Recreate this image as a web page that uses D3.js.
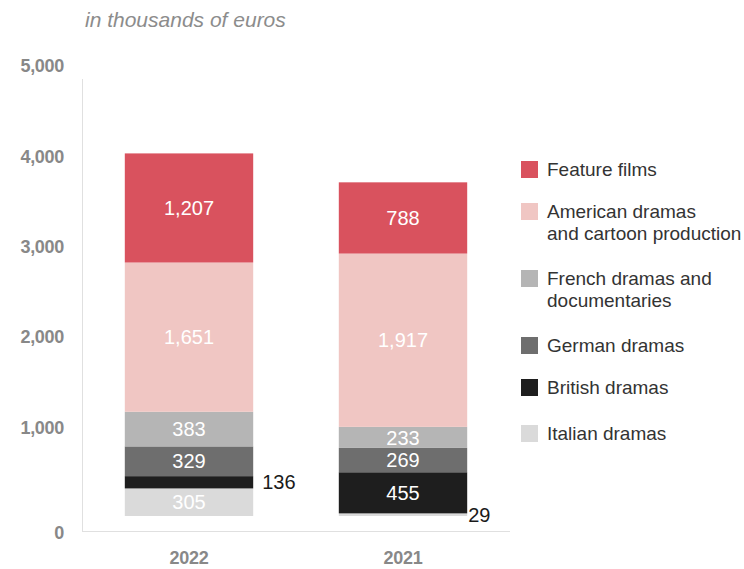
<!DOCTYPE html>
<html><head><meta charset="utf-8">
<script src="https://cdn.jsdelivr.net/npm/d3@7"></script>
<style>body{margin:0;background:#fff}svg{display:block;font-family:"Liberation Sans",Arial,sans-serif}</style>
</head><body><svg id="c" width="744" height="569"></svg>
<script>
const years = ["2022", "2021"];
const series = ["Feature films", "American dramas and cartoon production", "French dramas and documentaries", "German dramas", "British dramas", "Italian dramas"];
const featureFilms = [1207, 788];
const americanDramas = [1651, 1917];
const frenchDramas = [383, 233];
const germanDramas = [329, 269];
const britishDramas = [136, 455];
const italianDramas = [305, 29];
const yTicks = [0, 1000, 2000, 3000, 4000, 5000];
const colors = ["#d9525e", "#f0c6c3", "#b5b5b5", "#6e6e6e", "#1e1e1e", "#dadada"];
const legendLines = [["Feature films"], ["American dramas", "and cartoon production"], ["French dramas and", "documentaries"], ["German dramas"], ["British dramas"], ["Italian dramas"]];

const values = [featureFilms, americanDramas, frenchDramas, germanDramas, britishDramas, italianDramas];
const rows = years.map((y, i) => {
  const r = {year: y};
  series.forEach((s, k) => r[s] = values[k][i]);
  return r;
});
// stack bottom to top: Italian first
const stackKeys = series.slice().reverse();
const stacked = d3.stack().keys(stackKeys)(rows);

const svg = d3.select("#c");
const x = d3.scaleBand().domain(years).range([82, 510]).paddingInner(0.4).paddingOuter(0.2);
const y = d3.scaleLinear().domain([0, 5000]).range([516, 64]);
const base = y(0) + 15;

svg.append("text").attr("x", 85).attr("y", 27).attr("font-size", 21).attr("font-style", "italic")
  .attr("fill", "#8c8c8c").text("in thousands of euros");

// axis lines
svg.append("line").attr("x1", 82.5).attr("x2", 82.5).attr("y1", 79).attr("y2", base).attr("stroke", "#e0e0e0");
svg.append("line").attr("x1", 82).attr("x2", 510).attr("y1", base + 0.5).attr("y2", base + 0.5).attr("stroke", "#e0e0e0");

svg.append("g").selectAll("text").data(yTicks).join("text")
  .attr("x", 64).attr("y", d => d === 0 ? base : y(d)).attr("dy", "0.45em")
  .attr("text-anchor", "end").attr("font-size", 18).attr("font-weight", "bold").attr("fill", "#888")
  .attr("letter-spacing", -0.3)
  .text(d => d3.format(",")(d));

svg.append("g").selectAll("text").data(years).join("text")
  .attr("x", d => x(d) + x.bandwidth() / 2).attr("y", 564)
  .attr("text-anchor", "middle").attr("font-size", 18).attr("font-weight", "bold").attr("fill", "#888")
  .attr("letter-spacing", -0.3)
  .text(d => d);

const g = svg.append("g");
stacked.forEach(layer => {
  const ci = series.indexOf(layer.key);
  g.selectAll(null).data(layer).join("rect")
    .attr("x", d => x(d.data.year)).attr("width", x.bandwidth())
    .attr("y", d => y(d[1])).attr("height", d => y(d[0]) - y(d[1]))
    .attr("fill", colors[ci]);
  g.selectAll(null).data(layer).join("text")
    .attr("x", d => {
      const h = y(d[0]) - y(d[1]);
      if (h >= 20) return x(d.data.year) + x.bandwidth() / 2;
      return x(d.data.year) + x.bandwidth() + (h < 5 ? 1 : 9);
    })
    .attr("y", d => (y(d[0]) + y(d[1])) / 2).attr("dy", "0.36em")
    .attr("text-anchor", d => (y(d[0]) - y(d[1])) >= 20 ? "middle" : "start")
    .attr("font-size", 20)
    .attr("fill", d => (y(d[0]) - y(d[1])) >= 20 ? "#ffffff" : "#1a1a1a")
    .text(d => d3.format(",")(d.data[layer.key]));
});

// legend
const legendTops = [161, 203, 270, 337, 379, 425];
const lg = svg.append("g");
series.forEach((s, i) => {
  lg.append("rect").attr("x", 521).attr("y", legendTops[i]).attr("width", 17).attr("height", 17).attr("fill", colors[i]);
  const t = lg.append("text").attr("x", 547).attr("y", legendTops[i] + 14.5).attr("font-size", 19).attr("fill", "#333");
  legendLines[i].forEach((ln, j) => t.append("tspan").attr("x", 547).attr("dy", j === 0 ? 0 : 22).text(ln));
});
</script></body></html>
